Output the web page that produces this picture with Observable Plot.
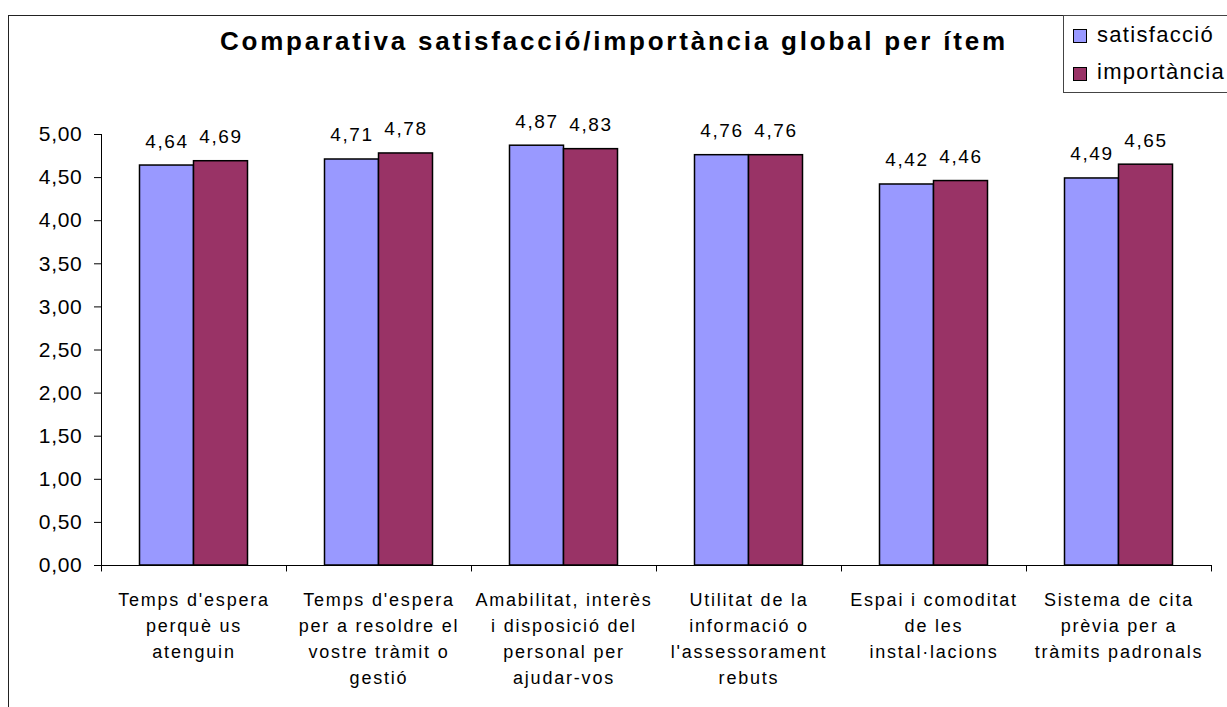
<!DOCTYPE html>
<html><head><meta charset="utf-8">
<script src="https://cdn.jsdelivr.net/npm/d3@7"></script>
<script src="https://cdn.jsdelivr.net/npm/@observablehq/plot@0.6"></script>
<style>
body{margin:0;background:#fff;}
#wrap{position:relative;width:1227px;height:707px;overflow:hidden;font-family:"Liberation Sans",Arial,sans-serif;}
#frame{position:absolute;left:8px;top:15px;width:1260px;height:740px;border:1px solid #222;box-sizing:border-box;}
#chart{position:absolute;left:0;top:0;}
#over{position:absolute;left:0;top:0;}
</style></head>
<body>
<div id="wrap"><div id="frame"></div><div id="chart"></div>
<svg id="over" width="1227" height="707"></svg></div>
<script>
const title = "Comparativa satisfacció/importància global per ítem";
const categories = ["c1","c2","c3","c4","c5","c6"];
const categoryLabels = [
  "Temps d'espera\nperquè us\natenguin",
  "Temps d'espera\nper a resoldre el\nvostre tràmit o\ngestió",
  "Amabilitat, interès\ni disposició del\npersonal per\najudar-vos",
  "Utilitat de la\ninformació o\nl'assessorament\nrebuts",
  "Espai i comoditat\nde les\ninstal·lacions",
  "Sistema de cita\nprèvia per a\ntràmits padronals"
];
const satisfaccio = [4.64, 4.71, 4.87, 4.76, 4.42, 4.49];
const importancia = [4.69, 4.78, 4.83, 4.76, 4.46, 4.65];
const seriesNames = ["satisfacció", "importància"];
const seriesColors = ["#9999FF", "#993366"];
const yTicks = [0, 0.5, 1, 1.5, 2, 2.5, 3, 3.5, 4, 4.5, 5];

const W = 1227, H = 707, ml = 101, mr = 16, mt = 134, mb = 142;
const bw = (W - ml - mr) / categories.length;
const barW = 54, off = (bw - 2 * barW) / 2;
const fmt = v => d3.format(".2f")(v).replace(".", ",");
const rows = categories.map((c, i) => ({cat: c, label: categoryLabels[i], s: satisfaccio[i], imp: importancia[i]}));
const font = "Liberation Sans, Arial, sans-serif";

const plot = Plot.plot({
  width: W, height: H,
  marginLeft: ml, marginRight: mr, marginTop: mt, marginBottom: mb,
  style: {fontFamily: font, color: "#000", background: "transparent"},
  x: {domain: categories, padding: 0, axis: null},
  y: {domain: [0, 5], axis: null},
  marks: [
    Plot.barY(rows, {x: "cat", y: "s", fill: seriesColors[0], stroke: "#000", strokeWidth: 1.5, insetLeft: off, insetRight: bw - off - barW}),
    Plot.barY(rows, {x: "cat", y: "imp", fill: seriesColors[1], stroke: "#000", strokeWidth: 1.5, insetLeft: off + barW, insetRight: off}),
    Plot.ruleY([0], {stroke: "#000", strokeWidth: 1}),
    Plot.ruleX([categories[0]], {x: d => d, dx: -bw / 2, y1: 0, y2: 5, stroke: "#000", strokeWidth: 1}),
    Plot.ruleX(categories, {x: d => d, dx: -bw / 2, y1: 0, y2: -0.075, stroke: "#000"}),
    Plot.ruleX([categories[categories.length - 1]], {x: d => d, dx: bw / 2, y1: 0, y2: -0.075, stroke: "#000"}),
    Plot.axisY({ticks: yTicks, tickFormat: fmt, tickSize: 7, tickPadding: 12, fontSize: 21, stroke: "#000"}),
    Plot.text(rows, {x: "cat", y: "s", text: d => fmt(d.s), dx: -barW / 2, dy: -18, lineAnchor: "bottom", fontSize: 19, fill: "#000"}),
    Plot.text(rows, {x: "cat", y: "imp", text: d => fmt(d.imp), dx: barW / 2, dy: -18, lineAnchor: "bottom", fontSize: 19, fill: "#000"}),
    Plot.text(rows, {x: "cat", y: 0, text: "label", lineAnchor: "top", dy: 22, lineHeight: 1.44, fontSize: 18, fill: "#000"})
  ]
});
const spacing = {"21": 0.7, "19": 1.6, "18": 1.8};
d3.select(plot).selectAll("g[font-size]").each(function() {
  const ls = spacing[this.getAttribute("font-size")];
  if (ls != null) this.setAttribute("letter-spacing", ls);
});
document.getElementById("chart").appendChild(plot);

const over = d3.select("#over");
over.append("text").attr("x", 612.5).attr("y", 50).attr("text-anchor", "middle")
  .attr("font-family", font).attr("font-weight", "bold").attr("font-size", 26)
  .attr("textLength", 785).attr("lengthAdjust", "spacing").text(title);
over.append("rect").attr("x", 1063.5).attr("y", 15.5).attr("width", 200).attr("height", 77)
  .attr("fill", "#fff").attr("stroke", "#444");
seriesNames.forEach((n, i) => {
  over.append("rect").attr("x", 1073.5).attr("y", 29.5 + i * 38).attr("width", 13).attr("height", 13)
    .attr("fill", seriesColors[i]).attr("stroke", "#000");
  over.append("text").attr("x", 1097).attr("y", 42 + i * 37).attr("font-family", font)
    .attr("font-size", 22).attr("letter-spacing", 1.3).text(n);
});
</script>
</body></html>
